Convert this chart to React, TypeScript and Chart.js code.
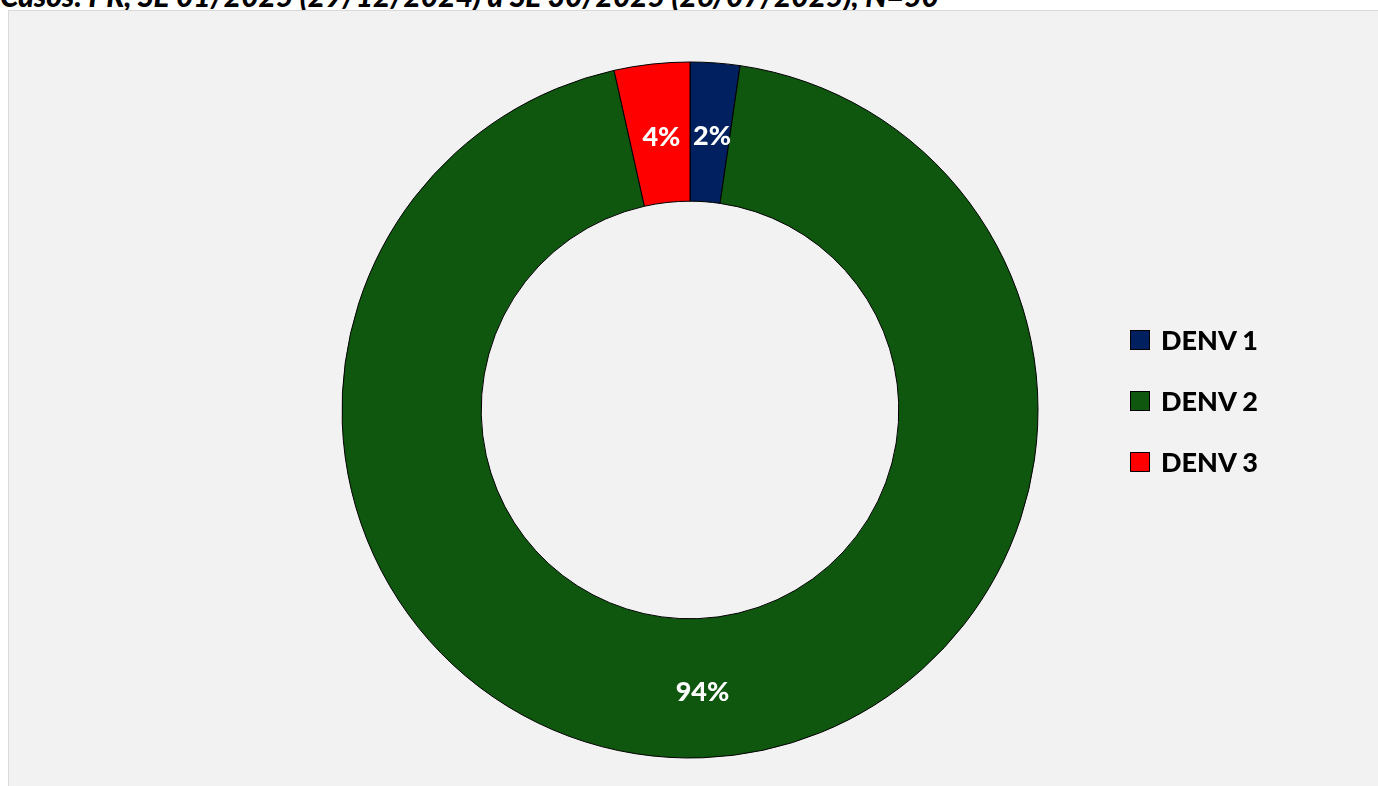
import React, { useEffect, useRef } from "react";
import { Chart, registerables } from "chart.js";

Chart.register(...registerables);

const categories = ["DENV 1", "DENV 2", "DENV 3"];
const shares = [2.3, 94.2, 3.5];
const valueLabels = ["2%", "94%", "4%"];
const colors = ["#002060", "#0f570f", "#ff0000"];
const titleText = "Casos: PR, SE 01/2025 (29/12/2024) a SE 30/2025 (26/07/2025), N=50";

const FONT = "Lato, 'Open Sans', sans-serif";

const labelPlugin = {
  id: "sliceLabels",
  afterDatasetsDraw(chart: any) {
    const ctx = chart.ctx;
    const meta = chart.getDatasetMeta(0);
    ctx.save();
    ctx.fillStyle = "#ffffff";
    ctx.font = `900 27px ${FONT}`;
    ctx.textAlign = "center";
    ctx.textBaseline = "middle";
    meta.data.forEach((arc: any, i: number) => {
      const p = arc.tooltipPosition();
      ctx.fillText(valueLabels[i], p.x + 2, p.y + 4);
    });
    ctx.restore();
  },
};

export default function App() {
  const ref = useRef<HTMLCanvasElement>(null);
  useEffect(() => {
    if (!ref.current) return;
    const chart = new Chart(ref.current, {
      type: "doughnut",
      data: {
        labels: categories,
        datasets: [
          {
            data: shares,
            backgroundColor: colors,
            borderColor: "#000000",
            borderWidth: 1,
          },
        ],
      },
      options: {
        animation: false,
        responsive: false,
        maintainAspectRatio: false,
        radius: 348,
        cutout: "60%",
        layout: { padding: { left: 2, right: 0, top: 62, bottom: 28 } },
        plugins: {
          legend: { display: false },
          tooltip: { enabled: false },
          title: { display: false },
        },
      } as any,
      plugins: [labelPlugin],
    });
    return () => chart.destroy();
  }, []);

  return (
    <div
      style={{
        position: "fixed",
        left: 0,
        top: 0,
        width: 1378,
        height: 786,
        overflow: "hidden",
        background: "#ffffff",
        fontFamily: FONT,
      }}
    >
      <div
        style={{
          position: "absolute",
          left: 0,
          top: -20,
          fontSize: 30,
          lineHeight: "30px",
          fontWeight: 900,
          fontStyle: "italic",
          color: "#000",
          whiteSpace: "nowrap",
        }}
      >
        {titleText}
      </div>
      <div
        style={{
          position: "absolute",
          left: 8,
          top: 10,
          width: 1400,
          height: 800,
          background: "#f2f2f2",
          border: "1px solid #d9d9d9",
          boxSizing: "border-box",
        }}
      />
      <canvas
        ref={ref}
        width={1378}
        height={786}
        style={{ position: "absolute", left: 0, top: 0, width: 1378, height: 786 }}
      />
      <div style={{ position: "absolute", left: 1130, top: 309 }}>
        {categories.map((c, i) => (
          <div
            key={c}
            style={{
              display: "flex",
              alignItems: "center",
              height: 61,
            }}
          >
            <div
              style={{
                width: 20,
                height: 20,
                background: colors[i],
                border: "1px solid #000",
                boxSizing: "border-box",
                marginRight: 11,
              }}
            />
            <span style={{ fontSize: 27, fontWeight: 900, color: "#000" }}>{c}</span>
          </div>
        ))}
      </div>
    </div>
  );
}
